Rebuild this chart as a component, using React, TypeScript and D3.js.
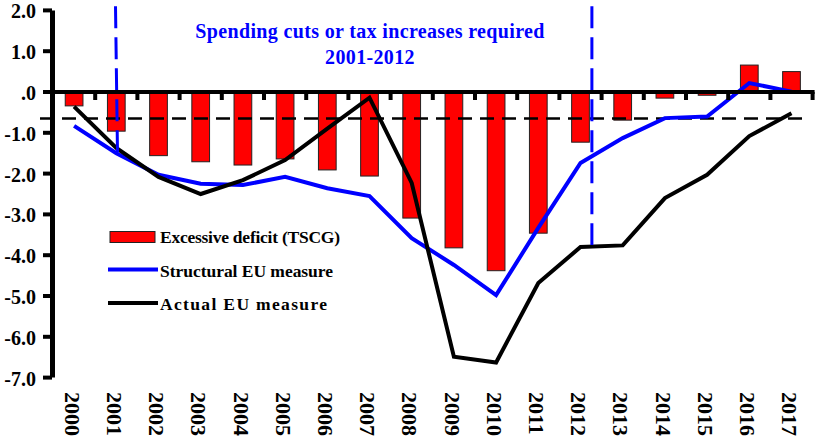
import React from "react";
import * as d3 from "d3";

const years = ["2000","2001","2002","2003","2004","2005","2006","2007","2008","2009","2010","2011","2012","2013","2014","2015","2016","2017"];
const excessiveDeficit = [-0.34,-0.96,-1.56,-1.71,-1.79,-1.64,-1.91,-2.06,-3.09,-3.82,-4.38,-3.46,-1.23,-0.69,-0.15,-0.08,0.66,0.5];
const structuralEU = [-0.83,-1.5,-2.03,-2.25,-2.28,-2.08,-2.36,-2.55,-3.58,-4.24,-4.98,-3.33,-1.74,-1.13,-0.64,-0.6,0.22,0.01];
const actualEU = [-0.36,-1.37,-2.08,-2.5,-2.16,-1.67,-0.9,-0.14,-2.23,-6.49,-6.63,-4.68,-3.8,-3.76,-2.6,-2.03,-1.08,-0.52];
const yTicks = [2,1,0,-1,-2,-3,-4,-5,-6,-7];
const yTickLabels = ["2.0","1.0",".0","-1.0","-2.0","-3.0","-4.0","-5.0","-6.0","-7.0"];
const thresholdValue = -0.65;
const titleLines = ["Spending cuts or tax increases required","2001-2012"];
const legendLabels = ["Excessive deficit (TSCG)","Structural EU measure","Actual EU measure"];

const W = 818, H = 438;
const left = 53, right = 812.6;
const FONT = "'Liberation Serif', 'Times New Roman', serif";

export default function App() {
  const x = d3.scaleBand<string>().domain(years).range([left, right]).paddingInner(0.58).paddingOuter(0.29);
  const xb = d3.scaleBand<string>().domain(years).range([left, right]);
  const y = d3.scaleLinear().domain([-7, 2]).range([377.6, 10.4]);
  const cx = (yr: string) => (xb(yr) as number) + xb.bandwidth() / 2;

  const line = d3.line<number>().x((_, i) => cx(years[i])).y((d) => y(d));

  const boundaries = years.slice(1).map((yr) => xb(yr) as number).concat([right]);

  const v1x0 = cx("2001") - 0.8, v1x1 = cx("2001") + 1.2;
  const v2x = cx("2012") + xb.bandwidth() * 0.27;

  return (
    <svg width={W} height={H} style={{ position: "absolute", left: 0, top: 0, background: "#fff" }} fontFamily={FONT}>
      {/* bars */}
      {years.map((yr, i) => {
        const v = excessiveDeficit[i];
        return (
          <rect key={yr} x={x(yr)} width={x.bandwidth()} y={Math.min(y(v), y(0))} height={Math.abs(y(v) - y(0))}
            fill="#ff0000" stroke="#222" strokeWidth={1} />
        );
      })}
      {/* threshold dashed */}
      <line x1={40} x2={803} y1={y(thresholdValue)} y2={y(thresholdValue)} stroke="#000" strokeWidth={2.5} strokeDasharray="14,8" />
      {/* lines */}
      <path d={line(structuralEU) || ""} fill="none" stroke="#0000ff" strokeWidth={4} strokeLinejoin="miter" />
      <path d={line(actualEU) || ""} fill="none" stroke="#000" strokeWidth={4} strokeLinejoin="miter" />
      {/* vertical blue dashed */}
      <line x1={v1x0} x2={v1x1} y1={y(2.1)} y2={y(-1.5)} stroke="#0000ff" strokeWidth={3} strokeDasharray="22,9" />
      <line x1={v2x} x2={v2x} y1={y(2.1)} y2={y(-3.75)} stroke="#0000ff" strokeWidth={3} strokeDasharray="22,9" />
      {/* zero axis */}
      <line x1={left} x2={right + 2} y1={y(0)} y2={y(0)} stroke="#000" strokeWidth={4} />
      {boundaries.map((b, i) => (
        <line key={i} x1={b} x2={b} y1={y(0)} y2={y(0) + 8} stroke="#000" strokeWidth={4} />
      ))}
      {/* y axis */}
      <line x1={52.5} x2={52.5} y1={y(2)} y2={y(-7)} stroke="#000" strokeWidth={5} />
      {yTicks.map((t, i) => (
        <g key={t}>
          <line x1={43} x2={52} y1={y(t)} y2={y(t)} stroke="#000" strokeWidth={4} />
          <text x={36} y={y(t) + 1} dy="0.35em" textAnchor="end" fontSize={20} fontWeight="bold" fill="#000">{yTickLabels[i]}</text>
        </g>
      ))}
      {/* x labels */}
      {years.map((yr) => (
        <text key={yr} transform={`translate(${cx(yr) - 1.5},392) rotate(90)`} textAnchor="start" dy="0.35em"
          fontSize={22} fontWeight="bold" fill="#000">{yr}</text>
      ))}
      {/* title */}
      <text x={370} y={38} textAnchor="middle" fontSize={20} letterSpacing={0.35} fontWeight="bold" fill="#0000ff">{titleLines[0]}</text>
      <text x={370} y={64} textAnchor="middle" fontSize={20} letterSpacing={0.35} fontWeight="bold" fill="#0000ff">{titleLines[1]}</text>
      {/* legend */}
      <rect x={110} y={231.5} width={45} height={11} fill="#ff0000" stroke="#222" strokeWidth={1} />
      <text x={160} y={243} fontSize={17.5} fontWeight="bold" fill="#000" textLength={180} lengthAdjust="spacing">{legendLabels[0]}</text>
      <line x1={108} x2={158} y1={269.5} y2={269.5} stroke="#0000ff" strokeWidth={4} />
      <text x={160} y={277} fontSize={17.5} fontWeight="bold" fill="#000" textLength={173} lengthAdjust="spacing">{legendLabels[1]}</text>
      <line x1={108} x2={158} y1={303} y2={303} stroke="#000" strokeWidth={4} />
      <text x={160} y={310} fontSize={17.5} fontWeight="bold" fill="#000" textLength={167} lengthAdjust="spacing">{legendLabels[2]}</text>
    </svg>
  );
}
